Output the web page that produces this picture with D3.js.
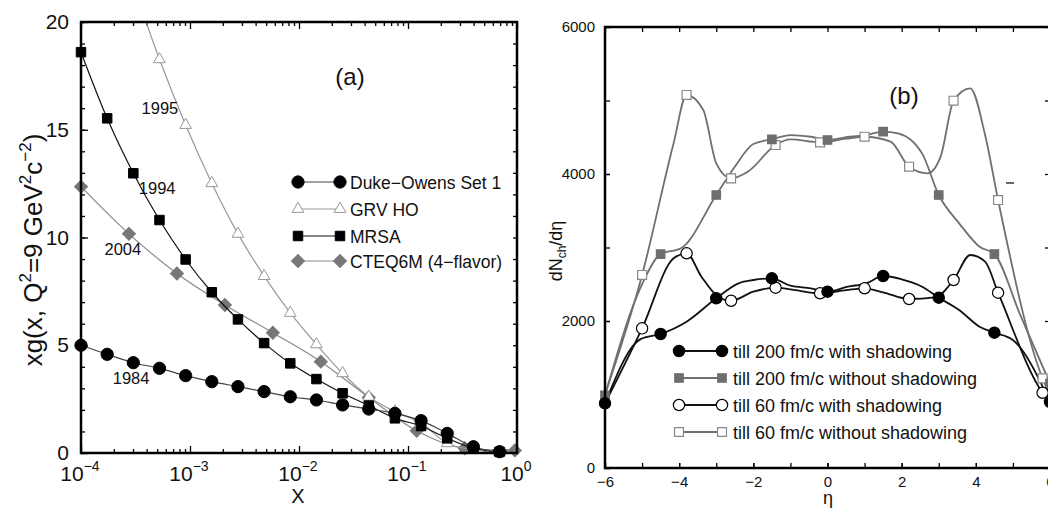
<!DOCTYPE html>
<html>
<head>
<meta charset="utf-8">
<script src="https://cdn.jsdelivr.net/npm/d3@7"></script>
<style>
body { margin: 0; background: #fff; }
svg { display: block; }
text { font-family: "Liberation Sans", Arial, sans-serif; }
</style>
</head>
<body>
<script>
// ---- panel (a): xg(x) at Q^2 = 9 GeV^2
var xGrid = [1e-4, 1.738e-4, 3.020e-4, 5.248e-4, 9.120e-4, 1.585e-3, 2.754e-3, 4.786e-3,
    8.318e-3, 1.445e-2, 2.512e-2, 4.365e-2, 7.586e-2, 0.1318, 0.2291, 0.3981, 0.6918];
var dukeY = [5.0, 4.58, 4.19, 3.93, 3.59, 3.31, 3.08, 2.85, 2.61, 2.46, 2.23, 2.04, 1.84, 1.50, 0.91, 0.29, 0.06];
var mrsaY = [18.6, 15.53, 12.98, 10.81, 8.98, 7.46, 6.20, 5.10, 4.16, 3.43, 2.77, 2.20, 1.61, 1.25, 0.68, 0.22, 0.05];
var grvX = [3.020e-4, 5.248e-4, 9.120e-4, 1.585e-3, 2.754e-3, 4.786e-3, 8.318e-3, 1.445e-2,
    2.512e-2, 4.365e-2, 7.586e-2, 0.1318, 0.2291, 0.3981, 0.6918];
var grvY = [21.7, 18.27, 15.22, 12.52, 10.17, 8.21, 6.50, 5.04, 3.70, 2.61, 1.92, 1.38, 0.45, 0.15, 0.04];
var cteqX = [1e-4, 2.754e-4, 7.586e-4, 2.089e-3, 5.754e-3, 1.585e-2, 4.365e-2, 0.1202, 0.3311, 0.955];
var cteqY = [12.36, 10.17, 8.33, 6.87, 5.58, 4.24, 2.58, 1.03, 0.22, 0.12];
var decadeTicks = [1e-4, 1e-3, 1e-2, 1e-1, 1];
var decadeExp = ["\u22124", "\u22123", "\u22122", "\u22121", "0"];
var yTicksA = [0, 5, 10, 15, 20];
var legendA = ["Duke\u2212Owens Set 1", "GRV HO", "MRSA", "CTEQ6M (4\u2212flavor)"];
var years = ["1995", "1994", "2004", "1984"];

// ---- panel (b): dNch/deta
var etaA = [-6, -5.05, -4.5, -3.8, -3, -2.4, -2, -1.5, -1, -0.45, 0, 0.55, 1.05, 1.5, 2, 2.55, 3, 3.55, 4.1, 4.5, 5, 6];
var valA = [880, 1750, 1823, 1990, 2309, 2513, 2558, 2581, 2480, 2445, 2399, 2467, 2513, 2612, 2567, 2467, 2317, 2150, 1922, 1841, 1741, 900];
var markA = [-6, -4.5, -3, -1.5, 0, 1.5, 3, 4.5, 6];
var etaB = [-6, -5, -4.5, -3.95, -3, -2.5, -2, -1.5, -1, -0.45, 0, 0.6, 1.05, 1.5, 1.9, 2.55, 3, 3.55, 4.1, 4.5, 5.2, 6];
var valB = [990, 2500, 2911, 2989, 3714, 4099, 4408, 4472, 4530, 4507, 4463, 4507, 4530, 4576, 4553, 4281, 3714, 3329, 3011, 2911, 2080, 1150];
var markB = [-6, -4.5, -3, -1.5, 0, 1.5, 3, 4.5, 6];
var etaC = [-6, -5, -4.15, -3.8, -3.4, -2.95, -2.6, -2, -1.4, -1, -0.2, 0.5, 1, 1.5, 2.2, 2.9, 3.4, 3.85, 4.25, 4.6, 5.8, 6];
var valC = [880, 1900, 2853, 2921, 2603, 2331, 2276, 2399, 2453, 2430, 2377, 2420, 2445, 2390, 2299, 2320, 2558, 2898, 2807, 2385, 1024, 900];
var markC = [-5, -3.8, -2.6, -1.4, -0.2, 1, 2.2, 3.4, 4.6, 5.8];
var etaD = [-6, -5, -4.15, -3.8, -3.35, -3, -2.6, -2.15, -1.4, -1, -0.2, 0.5, 1, 1.7, 2.2, 2.7, 3.05, 3.4, 3.85, 4.25, 4.6, 5.8, 6];
var valD = [1000, 2626, 4418, 5075, 4870, 4145, 3941, 4031, 4394, 4470, 4431, 4480, 4507, 4440, 4099, 4009, 4236, 4997, 5166, 4531, 3646, 1220, 1000];
var markD = [-5, -3.8, -2.6, -1.4, -0.2, 1, 2.2, 3.4, 4.6, 5.8];
var yTicksB = [0, 2000, 4000, 6000];
var xTicksB = [-6, -4, -2, 0, 2, 4, 6];
var legendB = ["till 200 fm/c with shadowing", "till 200 fm/c without shadowing",
    "till 60 fm/c with shadowing", "till 60 fm/c without shadowing"];

var svg = d3.select("body").append("svg")
    .attr("width", 1048)
    .attr("height", 508);

function zip(a, b) { return a.map(function(v, i) { return [v, b[i]]; }); }
function tidy(g) {
    g.select(".domain").remove();
    g.attr("font-family", null).attr("font-size", null);
    g.selectAll("line").attr("stroke", "#000").attr("stroke-width", 1.3);
}

//////////////////////////////
// Panel (a)
//////////////////////////////
var xa = d3.scaleLog().domain([1e-4, 1]).range([81, 517]);
var ya = d3.scaleLinear().domain([0, 20]).range([453, 22]);
var minorX = xa.ticks().filter(function(v) { return decadeTicks.indexOf(v) < 0; });
var minorYA = d3.range(0, 21);

var ga = svg.append("g");
ga.append("defs").append("clipPath").attr("id", "clipA")
    .append("rect").attr("x", 0).attr("y", 22).attr("width", 560).attr("height", 486);

ga.append("g").attr("transform", "translate(0,453)")
    .call(d3.axisBottom(xa).tickValues(minorX).tickSize(-4).tickFormat("")).call(tidy);
ga.append("g").attr("transform", "translate(0,453)")
    .call(d3.axisBottom(xa).tickValues(decadeTicks).tickSize(-7).tickFormat("")).call(tidy);
ga.append("g").attr("transform", "translate(0,22)")
    .call(d3.axisTop(xa).tickValues(minorX).tickSize(-4).tickFormat("")).call(tidy);
ga.append("g").attr("transform", "translate(0,22)")
    .call(d3.axisTop(xa).tickValues(decadeTicks).tickSize(-7).tickFormat("")).call(tidy);
ga.append("g").attr("transform", "translate(81,0)")
    .call(d3.axisLeft(ya).tickValues(minorYA).tickSize(-4).tickFormat("")).call(tidy);
var yAxA = ga.append("g").attr("transform", "translate(81,0)")
    .call(d3.axisLeft(ya).tickValues(yTicksA).tickSize(-7).tickPadding(12)).call(tidy);
yAxA.selectAll("text").attr("font-size", 21).attr("fill", "#111");
ga.append("g").attr("transform", "translate(517,0)")
    .call(d3.axisRight(ya).tickValues(minorYA).tickSize(-4).tickFormat("")).call(tidy);

// decade labels 10^n
var dl = ga.selectAll(".dec").data(decadeTicks).enter().append("text")
    .attr("x", function(d) { return xa(d) - 1; })
    .attr("y", 481)
    .attr("text-anchor", "middle")
    .attr("font-size", 21)
    .attr("fill", "#111");
dl.append("tspan").text("10");
dl.append("tspan").attr("dy", -10).attr("font-size", 14)
    .text(function(d, i) { return decadeExp[i]; });

ga.append("text").attr("x", 298).attr("y", 503).attr("text-anchor", "middle")
    .attr("font-size", 20).attr("fill", "#111").text("X");

var yl = ga.append("text")
    .attr("transform", "translate(42,250) rotate(-90)")
    .attr("text-anchor", "middle")
    .attr("font-size", 26)
    .attr("fill", "#111");
yl.append("tspan").text("xg(x, Q");
yl.append("tspan").attr("dy", -11).attr("font-size", 17).text("2");
yl.append("tspan").attr("dy", 11).text("=9 GeV");
yl.append("tspan").attr("dy", -11).attr("font-size", 17).text("2");
yl.append("tspan").attr("dy", 11).text("c");
yl.append("tspan").attr("dy", -11).attr("font-size", 17).text("\u22122");
yl.append("tspan").attr("dy", 11).text(")");

ga.append("text").attr("x", 350).attr("y", 85).attr("text-anchor", "middle")
    .attr("font-family", "Liberation Serif, Times New Roman, serif")
    .attr("font-size", 24).attr("fill", "#111").text("(a)");

var seriesA = [
    { pts: zip(xGrid, dukeY), line: "#444", sym: d3.symbolCircle, size: 118, fill: "#000", stroke: "#000", rot: 0 },
    { pts: zip(grvX, grvY), line: "#999", sym: d3.symbolTriangle, size: 60, fill: "#fff", stroke: "#999", rot: 0 },
    { pts: zip(xGrid, mrsaY), line: "#111", sym: d3.symbolSquare, size: 90, fill: "#000", stroke: "#000", rot: 0 },
    { pts: zip(cteqX, cteqY), line: "#8a8a8a", sym: d3.symbolSquare, size: 84, fill: "#777", stroke: "#777", rot: 45 }
];
var lineA = d3.line()
    .x(function(d) { return xa(d[0]); })
    .y(function(d) { return ya(d[1]); })
    .curve(d3.curveMonotoneX);
var plotA = ga.append("g").attr("clip-path", "url(#clipA)");
// draw in order so lower curves sit on top like the original
[3, 1, 2, 0].forEach(function(k) {
    var s = seriesA[k];
    plotA.append("path").datum(s.pts)
        .attr("d", lineA)
        .attr("fill", "none")
        .attr("stroke", s.line)
        .attr("stroke-width", 1.2);
    plotA.selectAll(null).data(s.pts).enter().append("path")
        .attr("transform", function(d) { return "translate(" + xa(d[0]) + "," + ya(d[1]) + ") rotate(" + s.rot + ")"; })
        .attr("d", d3.symbol(s.sym, s.size))
        .attr("fill", s.fill)
        .attr("stroke", s.stroke)
        .attr("stroke-width", 1);
});

// year annotations, placed in data coordinates
var yearPos = [[5.3e-4, 16.0], [5.0e-4, 12.28], [2.42e-4, 9.45], [2.88e-4, 3.47]];
ga.selectAll(".yr").data(years).enter().append("text")
    .attr("x", function(d, i) { return xa(yearPos[i][0]); })
    .attr("y", function(d, i) { return ya(yearPos[i][1]) + 6; })
    .attr("text-anchor", "middle")
    .attr("font-size", 16.5)
    .attr("fill", "#111")
    .text(function(d) { return d; });

// legend (a)
var legA = ga.selectAll(".legA").data(legendA).enter().append("g")
    .attr("transform", function(d, i) { return "translate(0," + [182, 209, 236, 261][i] + ")"; });
legA.append("line").attr("x1", 298).attr("x2", 340)
    .attr("stroke", function(d, i) { return seriesA[i].line; }).attr("stroke-width", 1.2);
[298, 340].forEach(function(px) {
    legA.append("path")
        .attr("transform", function(d, i) { return "translate(" + px + ",0) rotate(" + seriesA[i].rot + ")"; })
        .attr("d", function(d, i) { return d3.symbol(seriesA[i].sym, seriesA[i].size)(); })
        .attr("fill", function(d, i) { return seriesA[i].fill; })
        .attr("stroke", function(d, i) { return seriesA[i].stroke; });
});
legA.append("text").attr("x", 350).attr("y", 7)
    .attr("font-size", 17.5).attr("fill", "#111")
    .text(function(d) { return d; });

ga.append("rect").attr("x", 81).attr("y", 22).attr("width", 436).attr("height", 431)
    .attr("fill", "none").attr("stroke", "#000").attr("stroke-width", 2.5);

//////////////////////////////
// Panel (b)
//////////////////////////////
var xb = d3.scaleLinear().domain([-6, 6]).range([605, 1050]);
var yb = d3.scaleLinear().domain([0, 6000]).range([468, 27]);
var gb = svg.append("g");
var unitTicks = d3.range(-6, 7);
var kTicks = d3.range(0, 6001, 1000);

gb.append("g").attr("transform", "translate(0,468)")
    .call(d3.axisBottom(xb).tickValues(unitTicks).tickSize(-5).tickFormat("")).call(tidy);
var xAxB = gb.append("g").attr("transform", "translate(0,468)")
    .call(d3.axisBottom(xb).tickValues(xTicksB).tickSize(-5).tickPadding(8)
        .tickFormat(function(d) { return d < 0 ? "\u2212" + (-d) : String(d); })).call(tidy);
xAxB.selectAll("text").attr("font-size", 15).attr("fill", "#111");
gb.append("g").attr("transform", "translate(0,27)")
    .call(d3.axisTop(xb).tickValues(unitTicks).tickSize(-5).tickFormat("")).call(tidy);
gb.append("g").attr("transform", "translate(605,0)")
    .call(d3.axisLeft(yb).tickValues(kTicks).tickSize(-5).tickFormat("")).call(tidy);
var yAxB = gb.append("g").attr("transform", "translate(605,0)")
    .call(d3.axisLeft(yb).tickValues(yTicksB).tickSize(-5).tickPadding(10).tickFormat(d3.format("d"))).call(tidy);
yAxB.selectAll("text").attr("font-size", 15).attr("fill", "#111");
gb.append("g").attr("transform", "translate(1050,0)")
    .call(d3.axisRight(yb).tickValues(kTicks).tickSize(-5).tickFormat("")).call(tidy);
gb.append("line").attr("x1", 1006).attr("x2", 1014).attr("y1", 183).attr("y2", 183)
    .attr("stroke", "#333").attr("stroke-width", 1.5);

var ylb = gb.append("text")
    .attr("transform", "translate(562,251) rotate(-90)")
    .attr("text-anchor", "middle")
    .attr("font-size", 18)
    .attr("fill", "#111");
ylb.append("tspan").text("dN");
ylb.append("tspan").attr("dy", 4).attr("font-size", 12).text("ch");
ylb.append("tspan").attr("dy", -4).text("/d\u03b7");

gb.append("text").attr("x", 828).attr("y", 504).attr("text-anchor", "middle")
    .attr("font-size", 18).attr("fill", "#111").text("\u03b7");
gb.append("text").attr("x", 904).attr("y", 104).attr("text-anchor", "middle")
    .attr("font-family", "Liberation Serif, Times New Roman, serif")
    .attr("font-size", 24).attr("fill", "#111").text("(b)");

function marks(eta, val, keep) {
    return zip(eta, val).filter(function(d) { return keep.indexOf(d[0]) >= 0; });
}
var seriesB = [
    { pts: zip(etaA, valA), m: marks(etaA, valA, markA), line: "#111", sym: d3.symbolCircle, size: 100, fill: "#000", stroke: "#000" },
    { pts: zip(etaB, valB), m: marks(etaB, valB, markB), line: "#707070", sym: d3.symbolSquare, size: 72, fill: "#6e6e6e", stroke: "#6e6e6e" },
    { pts: zip(etaC, valC), m: marks(etaC, valC, markC), line: "#111", sym: d3.symbolCircle, size: 100, fill: "#fff", stroke: "#000" },
    { pts: zip(etaD, valD), m: marks(etaD, valD, markD), line: "#707070", sym: d3.symbolSquare, size: 80, fill: "#fff", stroke: "#888" }
];
var lineB = d3.line()
    .x(function(d) { return xb(d[0]); })
    .y(function(d) { return yb(d[1]); })
    .curve(d3.curveMonotoneX);
[3, 1, 2, 0].forEach(function(k) {
    var s = seriesB[k];
    gb.append("path").datum(s.pts)
        .attr("d", lineB)
        .attr("fill", "none")
        .attr("stroke", s.line)
        .attr("stroke-width", 1.8);
});
[3, 1, 2, 0].forEach(function(k) {
    var s = seriesB[k];
    gb.selectAll(null).data(s.m).enter().append("path")
        .attr("transform", function(d) { return "translate(" + xb(d[0]) + "," + yb(d[1]) + ")"; })
        .attr("d", d3.symbol(s.sym, s.size))
        .attr("fill", s.fill)
        .attr("stroke", s.stroke)
        .attr("stroke-width", 1.2);
});

// legend (b)
var legB = gb.selectAll(".legB").data(legendB).enter().append("g")
    .attr("transform", function(d, i) { return "translate(0," + [351, 378, 405, 432][i] + ")"; });
legB.append("line").attr("x1", 679).attr("x2", 722)
    .attr("stroke", function(d, i) { return seriesB[i].line; }).attr("stroke-width", 1.8);
[679, 722].forEach(function(px) {
    legB.append("path")
        .attr("transform", "translate(" + px + ",0)")
        .attr("d", function(d, i) { return d3.symbol(seriesB[i].sym, seriesB[i].size)(); })
        .attr("fill", function(d, i) { return seriesB[i].fill; })
        .attr("stroke", function(d, i) { return seriesB[i].stroke; })
        .attr("stroke-width", 1.2);
});
legB.append("text").attr("x", 733).attr("y", 7)
    .attr("font-size", 18).attr("fill", "#111")
    .text(function(d) { return d; });

gb.append("rect").attr("x", 605).attr("y", 27).attr("width", 445).attr("height", 441)
    .attr("fill", "none").attr("stroke", "#000").attr("stroke-width", 2.5);
</script>
</body>
</html>
